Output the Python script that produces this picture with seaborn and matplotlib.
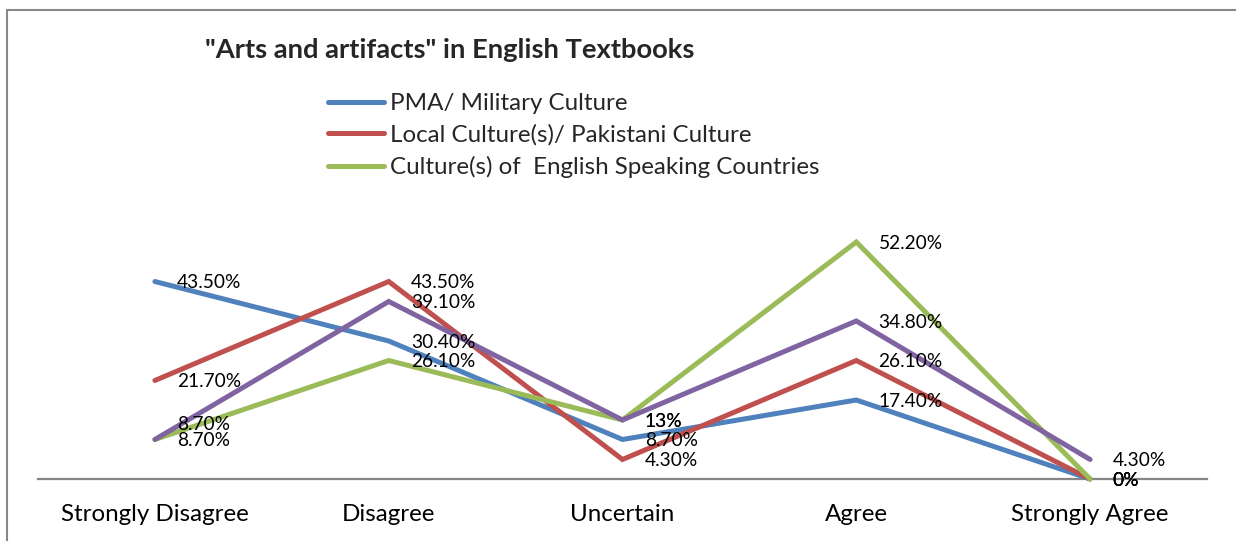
import matplotlib
matplotlib.use("Agg")
import matplotlib.pyplot as plt
import seaborn as sns
import pandas as pd
from matplotlib.patches import Rectangle

categories = ["Strongly Disagree", "Disagree", "Uncertain", "Agree", "Strongly Agree"]
series_names = ["PMA/ Military Culture",
                "Local Culture(s)/ Pakistani Culture",
                "Culture(s) of  English Speaking Countries",
                "Other"]
pma = [43.5, 30.4, 8.7, 17.4, 0]
local = [21.7, 43.5, 4.3, 26.1, 0]
english = [8.7, 26.1, 13, 52.2, 0]
other = [8.7, 39.1, 13, 34.8, 4.3]
label_texts = {
    "PMA/ Military Culture": ["43.50%", "30.40%", "8.70%", "17.40%", "0%"],
    "Local Culture(s)/ Pakistani Culture": ["21.70%", "43.50%", "4.30%", "26.10%", "0%"],
    "Culture(s) of  English Speaking Countries": ["8.70%", "26.10%", "13%", "52.20%", "0%"],
    "Other": ["8.70%", "39.10%", "13%", "34.80%", "4.30%"],
}
colors = ["#4F81BD", "#C0504D", "#9BBB59", "#8064A2"]

rows = []
for name, vals in zip(series_names, [pma, local, english, other]):
    for c, v in zip(categories, vals):
        rows.append({"category": c, "value": v, "series": name})
df = pd.DataFrame(rows)

sns.set_theme(style="white")
plt.rcParams["font.family"] = ["Lato", "DejaVu Sans"]

fig = plt.figure(figsize=(12.36, 5.41), dpi=100)
ax = fig.add_axes([38 / 1236, 62 / 541, 1169 / 1236, 272.4 / 541])

sns.lineplot(data=df, x="category", y="value", hue="series",
             hue_order=series_names, palette=colors, sort=False,
             estimator=None, linewidth=3.6, ax=ax, legend=False)
for ln in ax.lines:
    ln.set_clip_on(False)
    ln.set_solid_joinstyle("miter")

ax.set_xlim(-0.5, 4.5)
ax.set_ylim(0, 60)
ax.set_yticks([])
ax.set_xlabel("")
ax.set_ylabel("")
for s in ["top", "right", "left"]:
    ax.spines[s].set_visible(False)
ax.spines["bottom"].set_color("#868686")
ax.spines["bottom"].set_linewidth(1.6)
ax.spines["bottom"].set_zorder(1)
ax.tick_params(axis="x", length=0, pad=18, labelsize=17.4, colors="black")

# data labels (small vertical nudges in points to mimic Excel placement)
nudges = {("Other", 0): 12}
for name, vals in zip(series_names, [pma, local, english, other]):
    for i, v in enumerate(vals):
        dy = nudges.get((name, i), 0)
        ax.annotate(label_texts[name][i], xy=(i, v), xytext=(16, dy - 1),
                    textcoords="offset points", ha="left", va="center",
                    fontsize=13.8, color="black", annotation_clip=False)

# legend (only first three series)
handles = ax.lines[:3]
fig.legend(handles, series_names[:3], loc="upper left",
           bbox_to_anchor=(328 / 1236, 1 - 93 / 541), frameon=False,
           fontsize=17.4, handlelength=2.3, handletextpad=0.27,
           labelspacing=0.43, borderpad=0, borderaxespad=0)

fig.text(205 / 1236, 1 - 50 / 541, '"Arts and artifacts" in English Textbooks',
         ha="left", va="center", fontsize=19.7, fontweight="bold")

fig.add_artist(Rectangle((7 / 1236, -0.1), 1.2, (531 / 541) + 0.1,
                         transform=fig.transFigure, fill=False,
                         ec="#888888", lw=1.5))

fig.savefig("out.png", dpi=100)
